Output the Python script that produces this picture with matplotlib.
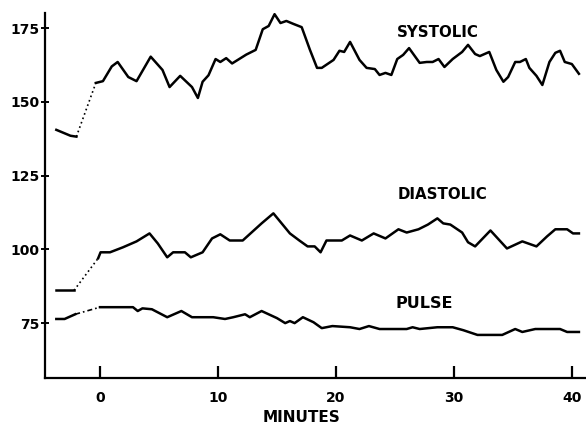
import matplotlib
matplotlib.use("Agg")
import matplotlib.pyplot as plt

# --- data (minutes, mmHg / beats per min) ---
sys_pre_t = [-3.7, -2.5, -2.0]
sys_pre_v = [140.5, 138.5, 138.2]
sys_t = [-0.35, 0.25, 1.0, 1.5, 2.4, 3.1, 4.3, 5.3, 5.9, 6.8, 7.8, 8.3, 8.7, 9.2,
         9.8, 10.2, 10.7, 11.2, 12.4, 13.2, 13.8, 14.3, 14.8, 15.3, 15.8, 16.4,
         17.1, 17.8, 18.4, 18.8, 19.8, 20.3, 20.7, 21.2, 22.0, 22.6, 23.3, 23.7,
         24.2, 24.7, 25.2, 25.7, 26.2, 27.1, 27.7, 28.2, 28.7, 29.2, 29.9, 30.7,
         31.2, 31.8, 32.2, 33.0, 33.6, 34.2, 34.6, 35.2, 35.6, 36.1, 36.4, 37.0,
         37.5, 38.1, 38.6, 39.0, 39.4, 40.0, 40.6]
sys_v = [156.4, 157, 162, 163.5, 158.4, 157, 165.3, 160.8, 155, 158.8, 155, 151.3,
         156.8, 159, 164.5, 163.5, 164.8, 163, 166, 167.6, 174.6, 175.7, 179.7,
         176.7, 177.4, 176.4, 175.3, 167.6, 161.5, 161.5, 164.2, 167.3, 166.9,
         170.3, 164.2, 161.5, 161.1, 159.1, 159.8, 159.1, 164.5, 165.9, 168.2,
         163.2, 163.5, 163.5, 164.5, 161.8, 164.5, 166.9, 169.3, 166.2, 165.5,
         166.9, 160.8, 156.8, 158.4, 163.5, 163.5, 164.5, 161.5, 158.8, 155.7,
         163.5, 166.6, 167.3, 163.5, 162.8, 159.5]

dia_pre_t = [-3.7, -2.2]
dia_pre_v = [86.1, 86.1]
dia_t = [-0.15, 0.05, 0.85, 1.95, 3.1, 4.2, 4.9, 5.7, 6.2, 7.2, 7.7, 8.7, 9.5,
         10.2, 11.0, 12.1, 13.7, 14.7, 16.1, 16.9, 17.6, 18.2, 18.7, 19.2, 20.5,
         21.2, 22.2, 23.2, 24.2, 25.3, 26.0, 27.0, 27.8, 28.6, 29.1, 29.7, 30.7,
         31.2, 31.8, 33.1, 34.5, 35.8, 37.0, 37.9, 38.6, 39.6, 40.1, 40.6]
dia_v = [97, 99, 99, 100.7, 102.7, 105.4, 102, 97.3, 99, 99, 97.3, 99, 103.7,
         105.1, 103, 103, 108.8, 112.2, 105.4, 103, 101, 101, 99, 103, 103,
         104.7, 103, 105.4, 103.7, 106.8, 105.7, 106.8, 108.4, 110.5, 108.8,
         108.4, 105.7, 102.4, 101, 106.4, 100.3, 102.7, 101, 104.4, 106.8, 106.8,
         105.4, 105.4]

pul_pre_t = [-3.7, -3.0, -2.1]
pul_pre_v = [76.4, 76.4, 78]
pul_t = [0.0, 2.8, 3.2, 3.6, 4.4, 5.7, 6.9, 7.8, 9.6, 10.6, 11.3, 12.3, 12.7,
         13.7, 15.0, 15.7, 16.1, 16.5, 17.2, 18.1, 18.8, 19.7, 21.2, 22.0, 22.8,
         23.7, 26.0, 26.5, 27.1, 28.6, 29.9, 30.8, 32.0, 34.1, 35.2, 35.8, 36.9,
         39.0, 39.6, 40.6]
pul_v = [80.4, 80.4, 79.1, 80, 79.7, 77, 79.1, 77, 77, 76.4, 77, 78, 77, 79.1,
         76.7, 75, 75.7, 75, 77, 75.3, 73.3, 74, 73.6, 73, 74, 73, 73, 73.6, 73,
         73.6, 73.6, 72.6, 71, 71, 73, 72, 73, 73, 72, 72]

x_ticks = [0, 10, 20, 30, 40]
y_ticks = [75, 100, 125, 150, 175]

INK = "black"
fig = plt.figure(figsize=(5.86, 4.28), dpi=100, facecolor="white")
ax = fig.add_axes([45 / 586, 50 / 428, 541 / 586, 365 / 428])

for pre_t, pre_v, t, v, ls in [(sys_pre_t, sys_pre_v, sys_t, sys_v, (0, (1, 1.8))),
                               (dia_pre_t, dia_pre_v, dia_t, dia_v, (0, (1, 1.8))),
                               (pul_pre_t, pul_pre_v, pul_t, pul_v, (0, (3, 1.8, 1, 1.8)))]:
    ax.plot(pre_t, pre_v, color=INK, lw=1.8, solid_joinstyle="round")
    ax.plot(t, v, color=INK, lw=1.8, solid_joinstyle="round")
    ax.plot([pre_t[-1], t[0]], [pre_v[-1], v[0]], color=INK, lw=1.2, ls=ls)

ax.set_xlim(-4.66, 41.2)
ax.set_ylim(56.4, 180.1)
for s in ["top", "right"]:
    ax.spines[s].set_visible(False)
for s in ["left", "bottom"]:
    ax.spines[s].set_linewidth(1.6)

ax.set_xticks(x_ticks)
ax.set_yticks(y_ticks)
ax.tick_params(axis="x", direction="in", length=9, width=1.6, pad=9,
               labelsize=10)
ax.tick_params(axis="y", direction="inout", length=6, width=1.4, pad=1,
               labelsize=10)
for lab in ax.get_xticklabels() + ax.get_yticklabels():
    lab.set_fontweight("bold")

ax.text(28.6, 173.6, "SYSTOLIC", fontsize=10.8, fontweight="bold", ha="center", va="center")
ax.text(29.0, 118.6, "DIASTOLIC", fontsize=10.8, fontweight="bold", ha="center", va="center")
ax.text(27.5, 81.8, "PULSE", fontsize=11.5, fontweight="bold", ha="center", va="center")
fig.text(302 / 586, 10 / 428, "MINUTES", fontsize=11, fontweight="bold",
         ha="center", va="center")

fig.savefig("out.png", dpi=100)
